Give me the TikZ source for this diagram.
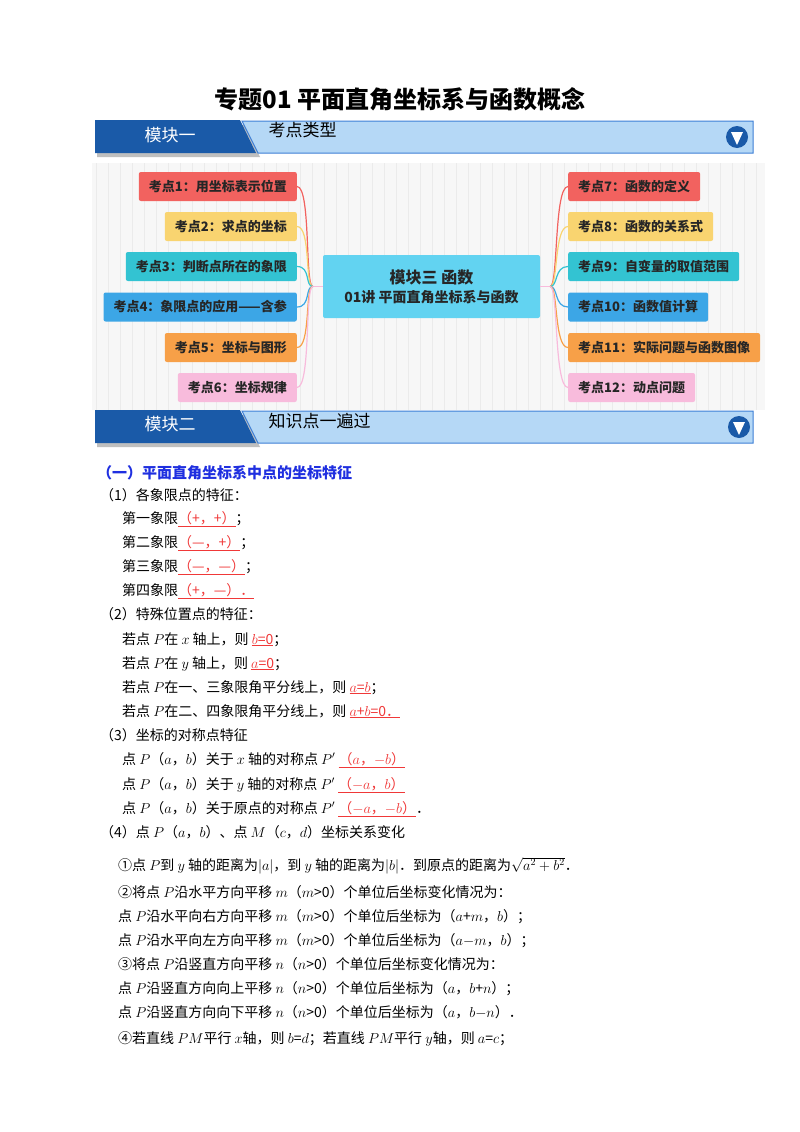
\documentclass[tikz,border=0pt]{standalone}
\usepackage{fontspec}
\setmainfont{Noto Sans CJK SC}
\usetikzlibrary{calc}
\definecolor{bandark}{HTML}{1A5AA8}
\definecolor{banlight}{HTML}{B5D8F6}
\definecolor{banline}{HTML}{3D7FD6}
\definecolor{kred}{HTML}{F2625F}
\definecolor{kyel}{HTML}{F9D470}
\definecolor{kteal}{HTML}{33C3D2}
\definecolor{kblue}{HTML}{3CA6E6}
\definecolor{kora}{HTML}{F7A048}
\definecolor{kpink}{HTML}{F8BBDC}
\definecolor{khub}{HTML}{62D3F1}
\definecolor{ansred}{HTML}{F03838}
\definecolor{headblue}{HTML}{1F2FE0}
\newcommand{\ans}[1]{\textcolor{ansred}{$\underline{\hbox{#1}}$}}
\tikzset{
  kd/.style={rounded corners=2pt,inner xsep=10pt,inner ysep=0pt,minimum height=29pt,font=\fontsize{13}{13}\selectfont\bfseries,text=black!85},
  lnode/.style={kd,anchor=east},
  rnode/.style={kd,anchor=west},
  link/.style={line width=1.2pt},
  ln/.style={anchor=base west,inner sep=0pt,font=\fontsize{14}{14}\selectfont},
}
\begin{document}
\begin{tikzpicture}[x=1pt,y=-1pt]
\useasboundingbox (0,0) rectangle (800,1132);
\fill[white] (0,0) rectangle (800,1132);

% title
\node[font=\fontsize{24}{24}\selectfont\bfseries] (title) at (400,99) {专题01\ 平面直角坐标系与函数概念};

% banner one
\fill[black!25] (97,125) -- (244,125) -- (260,157) -- (97,157) -- cycle;
\fill[bandark] (95,120) -- (240,120) -- (256,153) -- (95,153) -- cycle;
\node[white,font=\fontsize{17}{17}\selectfont] (b1a) at (170,135) {模块一};
\filldraw[fill=banlight,draw=banline,line width=1pt] (242,121) -- (753,121) -- (753,153) -- (258,153) -- cycle;
\node[anchor=west,font=\fontsize{17}{17}\selectfont] (b1b) at (265,130) {考点类型};
\fill[bandark] (737,137) circle (11);
\fill[white] (731,132) -- (743,132) -- (737,145) -- cycle;

% mind map
\fill[black!3] (92,163) rectangle (765,410);
\draw[black!8,step=12] (92,163) grid (765,410);
\node[kd,fill=khub,minimum width=217pt,minimum height=63pt,align=center,font=\fontsize{14}{19}\selectfont\bfseries] (hub) at (431.5,286.5)
  {{\fontsize{16}{19}\selectfont 模块三\ 函数}\\01讲\ 平面直角坐标系与函数};
\coordinate (hubL) at ($(hub.west)+(-10,0)$);
\coordinate (hubR) at ($(hub.east)+(10,0)$);

\node[lnode,fill=kred] (k1) at (297,186.5) {考点1：用坐标表示位置};
\node[lnode,fill=kyel] (k2) at (297,226.5) {考点2：求点的坐标};
\node[lnode,fill=kteal] (k3) at (297,266.5) {考点3：判断点所在的象限};
\node[lnode,fill=kblue] (k4) at (297,307) {考点4：象限点的应用——含参};
\node[lnode,fill=kora] (k5) at (297,347.5) {考点5：坐标与图形};
\node[lnode,fill=kpink] (k6) at (297,387.5) {考点6：坐标规律};

\node[rnode,fill=kred] (k7) at (568,186.5) {考点7：函数的定义};
\node[rnode,fill=kyel] (k8) at (568,226.5) {考点8：函数的关系式};
\node[rnode,fill=kteal] (k9) at (568,266.5) {考点9：自变量的取值范围};
\node[rnode,fill=kblue] (k10) at (568,307) {考点10：函数值计算};
\node[rnode,fill=kora] (k11) at (568,347.5) {考点11：实际问题与函数图像};
\node[rnode,fill=kpink] (k12) at (568,387.5) {考点12：动点问题};

\draw[link,kpink] (hub.west) -- (hubL);
\draw[link,kpink] (hub.east) -- (hubR);
\draw[link,kred] (hubL) .. controls +(-8,0) and +(14,0) .. (k1.east);
\draw[link,kyel] (hubL) .. controls +(-8,0) and +(14,0) .. (k2.east);
\draw[link,kteal] (hubL) .. controls +(-8,0) and +(14,0) .. (k3.east);
\draw[link,kblue] (hubL) .. controls +(-8,0) and +(14,0) .. (k4.east);
\draw[link,kora] (hubL) .. controls +(-8,0) and +(14,0) .. (k5.east);
\draw[link,kpink] (hubL) .. controls +(-8,0) and +(14,0) .. (k6.east);
\draw[link,kred] (hubR) .. controls +(8,0) and +(-14,0) .. (k7.west);
\draw[link,kyel] (hubR) .. controls +(8,0) and +(-14,0) .. (k8.west);
\draw[link,kteal] (hubR) .. controls +(8,0) and +(-14,0) .. (k9.west);
\draw[link,kblue] (hubR) .. controls +(8,0) and +(-14,0) .. (k10.west);
\draw[link,kora] (hubR) .. controls +(8,0) and +(-14,0) .. (k11.west);
\draw[link,kpink] (hubR) .. controls +(8,0) and +(-14,0) .. (k12.west);

% banner two
\fill[black!25] (97,415) -- (244,415) -- (260,447) -- (97,447) -- cycle;
\fill[bandark] (95,410) -- (240,410) -- (256,443) -- (95,443) -- cycle;
\node[white,font=\fontsize{17}{17}\selectfont] (b2a) at (170,424) {模块二};
\filldraw[fill=banlight,draw=banline,line width=1pt] (242,411) -- (753,411) -- (753,443) -- (258,443) -- cycle;
\node[anchor=west,font=\fontsize{17}{17}\selectfont] (b2b) at (265,421) {知识点一遍过};
\fill[bandark] (739,427) circle (11);
\fill[white] (733,422) -- (745,422) -- (739,435) -- cycle;

% text
\node[ln,font=\fontsize{15}{15}\selectfont\bfseries,text=headblue] (h1) at (97,478) {（一）平面直角坐标系中点的坐标特征};
\node[ln] (s1) at (100,500) {（1）各象限点的特征：};
\node[ln] (q1) at (122,523) {第一象限\ans{（+，+）}；};
\node[ln] (q2) at (122,547) {第二象限\ans{（—，+）}；};
\node[ln] (q3) at (122,571) {第三象限\ans{（—，—）}；};
\node[ln] (q4) at (122,595) {第四象限\ans{（+，—）．}};
\node[ln] (s2) at (100,619) {（2）特殊位置点的特征：};
\node[ln] (p1) at (122,644) {若点 $P$在 $x$ 轴上，则 \ans{$b$=0}；};
\node[ln] (p2) at (122,668) {若点 $P$在 $y$ 轴上，则 \ans{$a$=0}；};
\node[ln] (p3) at (122,692) {若点 $P$在一、三象限角平分线上，则 \ans{$a$=$b$}；};
\node[ln] (p4) at (122,716) {若点 $P$在二、四象限角平分线上，则 \ans{$a$+$b$=0．}};
\node[ln] (s3) at (100,740) {（3）坐标的对称点特征};
\node[ln] (r1) at (122,764) {点 $P$（$a$，$b$）关于 $x$ 轴的对称点 $P'$ \ans{（$a$，$-b$）}};
\node[ln] (r2) at (122,789) {点 $P$（$a$，$b$）关于 $y$ 轴的对称点 $P'$ \ans{（$-a$，$b$）}};
\node[ln] (r3) at (122,813) {点 $P$（$a$，$b$）关于原点的对称点 $P'$ \ans{（$-a$，$-b$）}．};
\node[ln] (s4) at (100,837) {（4）点 $P$（$a$，$b$）、点 $M$（$c$，$d$）坐标关系变化};
\node[ln] (t1) at (118,870) {①点 $P$到 $y$ 轴的距离为$|a|$，到 $y$ 轴的距离为$|b|$．到原点的距离为$\sqrt{a^2+b^2}$．};
\node[ln] (t2) at (118,897) {②将点 $P$沿水平方向平移 $m$（$m$>0）个单位后坐标变化情况为：};
\node[ln] (t3) at (118,921) {点 $P$沿水平向右方向平移 $m$（$m$>0）个单位后坐标为（$a$+$m$，$b$）；};
\node[ln] (t4) at (118,945) {点 $P$沿水平向左方向平移 $m$（$m$>0）个单位后坐标为（$a$$-$$m$，$b$）；};
\node[ln] (t5) at (118,969) {③将点 $P$沿竖直方向平移 $n$（$n$>0）个单位后坐标变化情况为：};
\node[ln] (t6) at (118,993) {点 $P$沿竖直方向向上平移 $n$（$n$>0）个单位后坐标为（$a$，$b$+$n$）；};
\node[ln] (t7) at (118,1017) {点 $P$沿竖直方向向下平移 $n$（$n$>0）个单位后坐标为（$a$，$b$$-$$n$）．};
\node[ln] (t8) at (118,1043) {④若直线 $PM$平行 $x$轴，则 $b$=$d$；若直线 $PM$平行 $y$轴，则 $a$=$c$；};
\end{tikzpicture}
\end{document}
